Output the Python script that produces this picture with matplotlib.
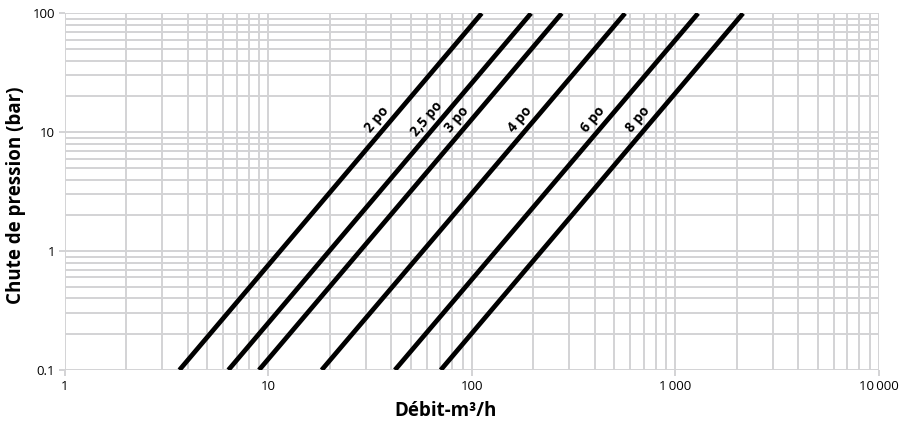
import matplotlib.pyplot as plt
import matplotlib.ticker as mticker
import numpy as np

plt.rcParams["font.family"] = ["Open Sans", "DejaVu Sans"]

# pipe sizes and end points of each line (flow m3/h at 0.1 bar and at 100 bar)
sizes = ["2 po", "2,5 po", "3 po", "4 po", "6 po", "8 po"]
flow_low = [3.65, 6.35, 8.98, 18.25, 41.8, 70.2]
flow_high = [111.6, 195, 276, 565, 1291, 2147]
dp_low = 0.1
dp_high = 100
label_dp = 11.2  # pressure at which the size label sits

x_ticks = [1, 10, 100, 1000, 10000]
x_ticklabels = ["1", "10", "100", "1\u2009000", "10\u2009000"]
y_ticks = [0.1, 1, 10, 100]
y_ticklabels = ["0.1", "1", "10", "100"]

GRID = "#d3d3d5"

fig = plt.figure(figsize=(9.04, 4.30), dpi=100)
ax = fig.add_axes([65 / 904, 60 / 430, 814 / 904, 356.7 / 430])

ax.set_xscale("log")
ax.set_yscale("log")
ax.set_xlim(1, 10000)
ax.set_ylim(0.1, 100)

for name, q0, q1 in zip(sizes, flow_low, flow_high):
    ax.plot([q0, q1], [dp_low, dp_high], color="black", lw=3.4,
            solid_capstyle="butt", zorder=3)
    # position on the line (log-linear) for the label
    t = (np.log10(label_dp) - np.log10(dp_low)) / (np.log10(dp_high) - np.log10(dp_low))
    qx = 10 ** (np.log10(q0) + t * (np.log10(q1) - np.log10(q0)))
    ax.annotate(name, xy=(qx, label_dp), xytext=(-6.3, 5.3), textcoords="offset points",
                rotation=50, ha="center", va="center", fontsize=10,
                fontweight="bold", zorder=4)

ax.xaxis.set_major_locator(mticker.FixedLocator(x_ticks))
ax.xaxis.set_minor_locator(mticker.LogLocator(base=10, subs=np.arange(2, 10)))
ax.yaxis.set_major_locator(mticker.FixedLocator(y_ticks))
ax.yaxis.set_minor_locator(mticker.LogLocator(base=10, subs=np.arange(2, 10)))
ax.xaxis.set_minor_formatter(mticker.NullFormatter())
ax.yaxis.set_minor_formatter(mticker.NullFormatter())
ax.set_xticklabels(x_ticklabels)
ax.set_yticklabels(y_ticklabels)

ax.grid(True, which="both", color=GRID, lw=1.4, zorder=0)
ax.set_axisbelow(True)
for s in ax.spines.values():
    s.set_visible(False)
ax.tick_params(which="major", length=4, width=1.4, color=GRID, labelsize=9.5,
               pad=3)
ax.tick_params(which="minor", length=0)

ax.set_xlabel("Débit-m³/h", fontsize=13.5, fontweight="bold")
ax.xaxis.set_label_coords(0.467, -0.087)
ax.set_ylabel("Chute de pression (bar)", fontsize=13.5, fontweight="bold")
ax.yaxis.set_label_coords(-0.048, 0.49)

fig.savefig("out.png", dpi=100)
